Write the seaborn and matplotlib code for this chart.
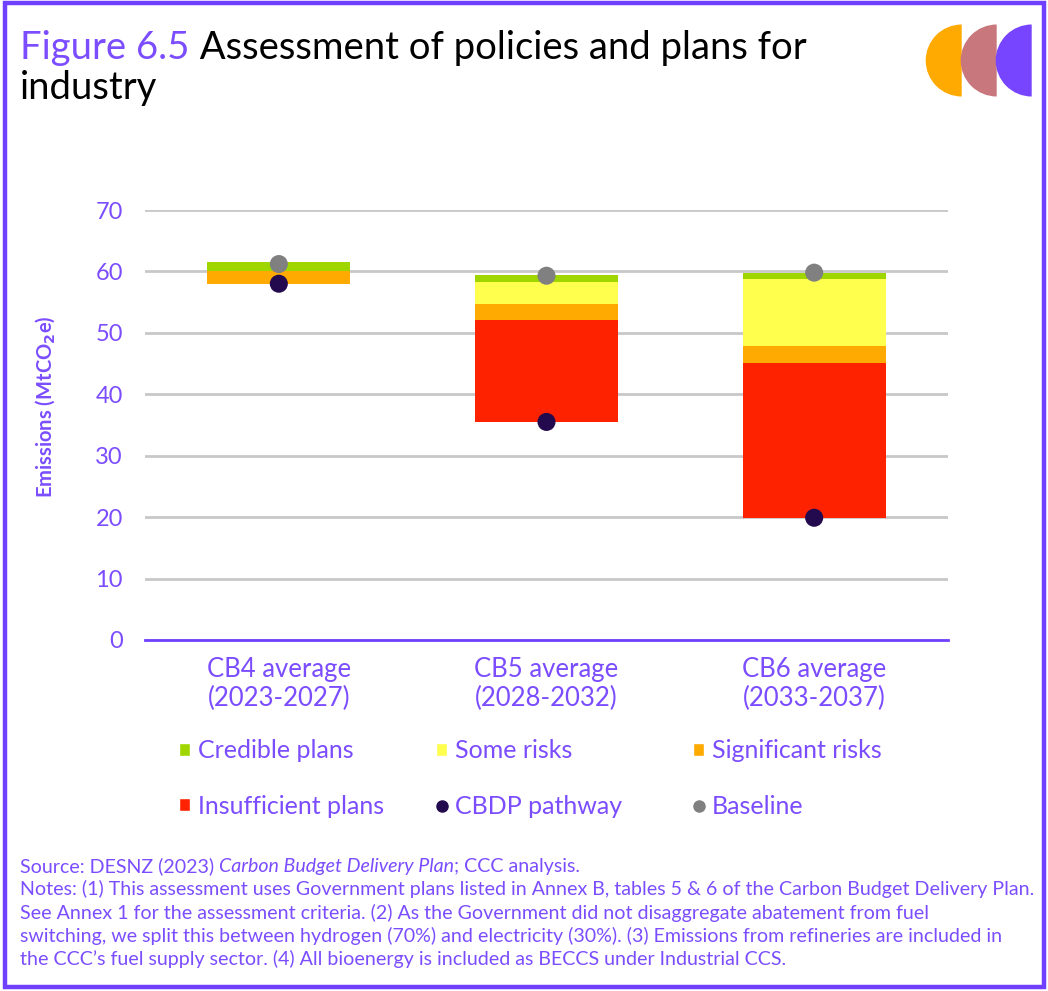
import numpy as np
import pandas as pd
import matplotlib
matplotlib.use("Agg")
import matplotlib.pyplot as plt
import seaborn as sns
from matplotlib.patches import Patch, Wedge, Rectangle
from matplotlib.lines import Line2D

# data (MtCO2e)
categories = ["CB4 average\n(2023-2027)", "CB5 average\n(2028-2032)", "CB6 average\n(2033-2037)"]
cbdp = [58.0, 35.5, 19.9]
baseline = [61.2, 59.3, 59.8]
insufficient = [0.0, 16.6, 25.2]
significant = [2.1, 2.6, 2.7]
some_risks = [0.0, 3.5, 10.9]
credible = [1.4, 1.15, 1.1]

layer_names = ["Insufficient plans", "Significant risks", "Some risks", "Credible plans"]
layer_values = [insufficient, significant, some_risks, credible]
layer_colors = ["#FF2200", "#FFAA00", "#FFFF4D", "#9FD600"]
point_colors = {"CBDP pathway": "#230A4E", "Baseline": "#808080"}

PURPLE = "#7B4DFF"
BORDER = "#7040FF"
W, H = 1048, 991

sns.set_theme(style="white")
plt.rcParams["font.family"] = ["Lato", "DejaVu Sans"]

fig = plt.figure(figsize=(W / 100, H / 100), dpi=100)
ax = fig.add_axes([145 / W, 1 - 640 / H, (948 - 145) / W, (640 - 210) / H])

# stacked bars start at the CBDP pathway value
bottom = np.array(cbdp, dtype=float)
for name, vals, col in zip(layer_names, layer_values, layer_colors):
    df = pd.DataFrame({"period": categories, "value": vals})
    sns.barplot(data=df, x="period", y="value", color=col, saturation=1,
                width=0.534, bottom=bottom, errorbar=None, linewidth=0, ax=ax)
    bottom = bottom + np.array(vals)

pts = pd.DataFrame({
    "period": categories * 2,
    "value": cbdp + baseline,
    "series": ["CBDP pathway"] * 3 + ["Baseline"] * 3,
})
sns.stripplot(data=pts, x="period", y="value", hue="series", palette=point_colors,
              jitter=False, size=13, linewidth=0, legend=False, zorder=5, ax=ax)

ax.set_xlim(-0.5, 2.5)
ax.set_ylim(0, 70)
ax.set_yticks(range(0, 71, 10))
ax.set_xlabel("")
ax.set_ylabel("")
ax.yaxis.grid(True, color="#C8C8C8", linewidth=2)
ax.set_axisbelow(True)
for s in ["top", "right", "left"]:
    ax.spines[s].set_visible(False)
ax.spines["bottom"].set_color(BORDER)
ax.spines["bottom"].set_linewidth(2)
ax.spines["bottom"].set_zorder(6)
ax.tick_params(axis="y", length=0, labelcolor=PURPLE, labelsize=17, pad=16)
ax.tick_params(axis="x", which="major", length=0, labelcolor=PURPLE, labelsize=18.5, pad=12)
ax.set_xticks([-0.5, 0.5, 1.5, 2.5], minor=True)
ax.tick_params(axis="x", which="minor", length=5, width=2, color=BORDER, direction="out")
for lab in ax.get_xticklabels():
    lab.set_linespacing(1.2)

fig.text(45 / W, 1 - 407 / H, r"Emissions (MtCO$_\mathbf{2}$e)", rotation=90,
         ha="center", va="center", color=PURPLE, fontsize=14.5, fontweight="bold")

# legend, three columns of two rows
legend_cols = [
    [("Credible plans", "bar"), ("Insufficient plans", "bar")],
    [("Some risks", "bar"), ("CBDP pathway", "pt")],
    [("Significant risks", "bar"), ("Baseline", "pt")],
]
all_colors = dict(zip(layer_names, layer_colors))
all_colors.update(point_colors)
for x0, items in zip([179, 436, 693], legend_cols):
    handles = []
    for lab, kind in items:
        if kind == "bar":
            handles.append(Patch(facecolor=all_colors[lab], label=lab))
        else:
            handles.append(Line2D([], [], marker="o", linestyle="", markersize=8,
                                  color=all_colors[lab], label=lab))
    fig.legend(handles=handles, loc="center left", bbox_to_anchor=(x0 / W, 1 - 778.5 / H),
               frameon=False, fontsize=18, labelcolor=PURPLE, handlelength=0.45,
               handleheight=0.45, handletextpad=0.3, borderpad=0, borderaxespad=0,
               labelspacing=1.28)

renderer = fig.canvas.get_renderer()


def write_runs(x, y, runs, size):
    for txt, col, style in runs:
        t = fig.text(x / W, 1 - y / H, txt, color=col, fontsize=size, style=style, va="baseline")
        x = t.get_window_extent(renderer).x1


write_runs(20, 59, [("Figure 6.5", PURPLE, "normal"),
                    (" Assessment of policies and plans for", "black", "normal")], 27.5)
write_runs(20, 99, [("industry", "black", "normal")], 27.5)

notes = [
    [("Source: DESNZ (2023) ", PURPLE, "normal"), ("Carbon Budget Delivery Plan", PURPLE, "italic"),
     ("; CCC analysis.", PURPLE, "normal")],
    [("Notes: (1) This assessment uses Government plans listed in Annex B, tables 5 & 6 of the Carbon Budget Delivery Plan.", PURPLE, "normal")],
    [("See Annex 1 for the assessment criteria. (2) As the Government did not disaggregate abatement from fuel", PURPLE, "normal")],
    [("switching, we split this between hydrogen (70%) and electricity (30%). (3) Emissions from refineries are included in", PURPLE, "normal")],
    [("the CCC\u2019s fuel supply sector. (4) All bioenergy is included as BECCS under Industrial CCS.", PURPLE, "normal")],
]
for i, runs in enumerate(notes):
    write_runs(20, 872 + i * 23.3, runs, 14.15)

# logo: three half discs
for cx, col in zip([961.7, 996.7, 1031.7], ["#FFAA00", "#C8787C", "#7744FF"]):
    fig.add_artist(Wedge((cx / 100, (H - 60.5) / 100), 0.36, 90, 270, facecolor=col,
                         edgecolor="none", transform=fig.dpi_scale_trans))

fig.add_artist(Rectangle((4.5 / W, 4.5 / H), 1 - 9 / W, 1 - 7 / H, transform=fig.transFigure,
                         fill=False, edgecolor=BORDER, linewidth=3.2))

fig.savefig("out.png", dpi=100)
